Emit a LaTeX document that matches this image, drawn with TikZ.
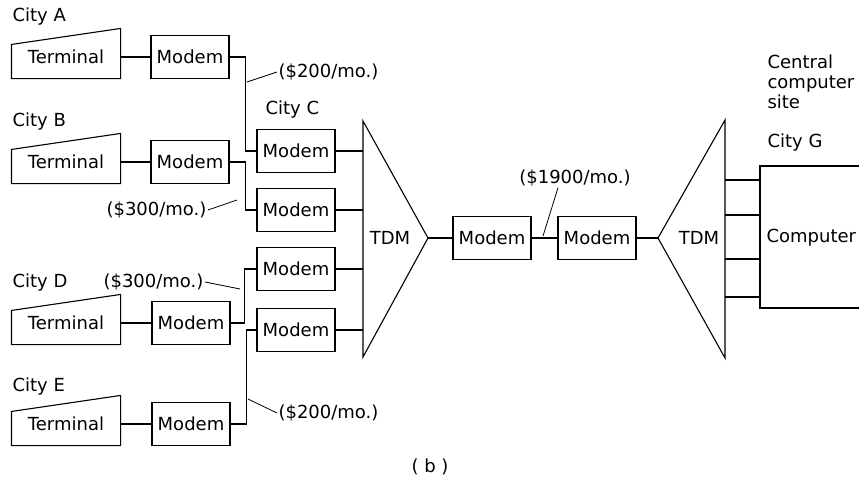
\documentclass[tikz,border=0pt]{standalone}
\usepackage{fontspec}
\setmainfont{DejaVu Sans}
\usepackage{tikz}
\usetikzlibrary{positioning,calc}

\begin{document}
\begin{tikzpicture}[x=1pt,y=-1pt,line width=1.1pt,
    every node/.style={font=\fontsize{18}{20}\selectfont},
    modem/.style={draw, minimum width=78pt, minimum height=43pt, inner sep=0pt},
    terminal/.style={minimum width=108pt, minimum height=42pt, inner sep=0pt},
    city/.style={anchor=west, inner sep=0pt},
    cost/.style={inner sep=1pt}]
    \useasboundingbox (0,0) rectangle (859,485);

    % terminals and their modems
    \node[terminal] (tA) at (66,57) {Terminal};
    \node[terminal] (tB) at (66,162) {Terminal};
    \node[terminal] (tD) at (66,323) {Terminal};
    \node[terminal] (tE) at (66,424) {Terminal};
    \foreach \t in {tA,tB,tD,tE}
        \draw (\t.south west) -- (\t.south east) -- ([yshift=7pt]\t.north east)
            -- ([yshift=-9pt]\t.north west) -- cycle;

    \node[modem] (mA) at (190,57) {Modem};
    \node[modem] (mB) at (190,162) {Modem};
    \node[modem] (mD) at (191,323) {Modem};
    \node[modem] (mE) at (191,424) {Modem};

    \node[city] (cityA) at (12,17) {City A};
    \node[city] (cityB) at (12,122) {City B};
    \node[city] (cityD) at (12,283) {City D};
    \node[city] (cityE) at (12,387) {City E};

    % city C modems and multiplexer
    \node[modem] (mC1) at (296,151) {Modem};
    \node[modem] (mC2) at (296,210) {Modem};
    \node[modem] (mC3) at (296,269) {Modem};
    \node[modem] (mC4) at (296,330) {Modem};
    \node[city] (cityC) at (265,110) {City C};

    \draw (363,121) -- (428,238) -- (363,357) -- cycle;
    \coordinate (tdmAedge) at (363,238);
    \coordinate (tdmAtip) at (428,238);
    \node (tdmA) at (390,238) {TDM};

    % trunk
    \node[modem] (mM1) at (492,238) {Modem};
    \node[modem] (mM2) at (597,238) {Modem};

    % central site
    \draw (658,238) -- (725,120) -- (725,358) -- cycle;
    \coordinate (tdmBtip) at (658,238);
    \coordinate (tdmBedge) at (725,238);
    \node (tdmB) at (699,238) {TDM};
    \draw (859,166) -| (760,308) -- (859,308);
    \coordinate (compW) at (760,238);
    \node[anchor=west, inner sep=0pt] (comp) at (766,238) {Computer};
    \node[city] (cityG) at (767,143) {City G};
    \node[city, align=left] (central) at (767,82) {Central\\computer\\site};

    % connections
    \foreach \a/\b in {tA/mA,tB/mB,tD/mD,tE/mE}
        \draw (\a) -- (\b);
    \draw (mA.east) -- ++(16,0) |- (mC1.west);
    \draw (mB.east) -- ++(16,0) |- (mC2.west);
    \draw (mD.east) -- ++(14,0) |- (mC3.west);
    \draw (mE.east) -- ++(16,0) |- (mC4.west);
    \foreach \m in {mC1,mC2,mC3,mC4}
        \draw (\m) -- (\m -| tdmAedge);
    \draw (tdmAtip) -- (mM1);
    \draw (mM1) -- (mM2);
    \draw (mM2) -- (tdmBtip);
    \foreach \y in {180,215,259,297}
        \draw (tdmBedge |- 0,\y) -- (compW |- 0,\y);

    % line costs
    \node[cost, anchor=west] (costA) at (277,72) {(\$200/mo.)};
    \node[cost, anchor=east] (costB) at (208,210) {(\$300/mo.)};
    \node[cost, anchor=east] (costD) at (205,282) {(\$300/mo.)};
    \node[cost, anchor=west] (costE) at (277,413) {(\$200/mo.)};
    \node[cost] (costM) at (575,178) {(\$1900/mo.)};
    \coordinate (legA) at (247,82);
    \coordinate (legB) at (237,200);
    \coordinate (legD) at (240,289);
    \coordinate (legE) at (248,399);
    \coordinate (legM) at (543,236);
    \draw[line width=0.8pt] (legA) -- (costA.west);
    \draw[line width=0.8pt] (legB) -- (costB.east);
    \draw[line width=0.8pt] (legD) -- (costD.east);
    \draw[line width=0.8pt] (legE) -- (costE.west);
    \draw[line width=0.8pt] (legM) -- ([xshift=-17pt]costM.south);

    \node (caption) at (430,467) {( b )};
\end{tikzpicture}
\end{document}
